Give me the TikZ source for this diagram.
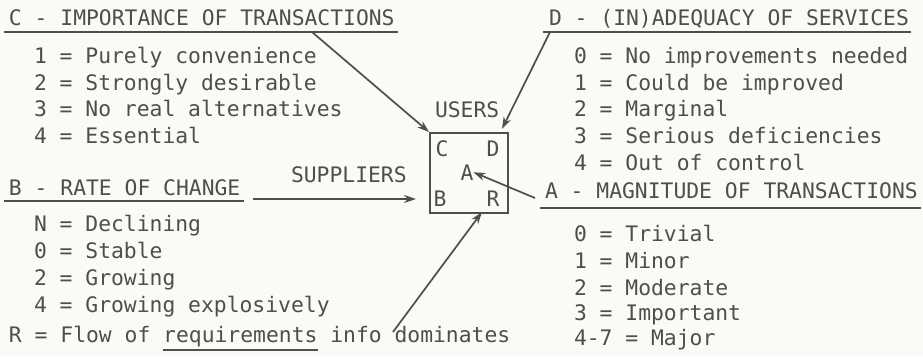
\documentclass[tikz,border=0pt]{standalone}
\usepackage{fontspec}
\setmonofont{DejaVu Sans Mono}
\usetikzlibrary{arrows.meta}
\definecolor{ink}{RGB}{78,78,78}
\definecolor{paper}{RGB}{250,250,246}
\tikzset{
  txt/.style={anchor=base west, inner sep=0pt, outer sep=0pt, text=ink,
    font=\ttfamily\fontsize{21.35}{25}\selectfont},
  ctr/.style={txt, anchor=base},
  uline/.style={draw=ink, line width=1.8pt},
  arr/.style={draw=ink, line width=1.7pt, -{Stealth[length=12pt,width=8pt]}},
  boxst/.style={draw=ink, line width=1.8pt, minimum width=78pt, minimum height=80pt, inner sep=0pt}
}
\begin{document}
\begin{tikzpicture}[x=1pt,y=-1pt]
\fill[paper] (0,0) rectangle (923,356);
\useasboundingbox (0,0) rectangle (923,356);
% C block
\node[txt] (ct) at (9,25) {C - IMPORTANCE OF TRANSACTIONS};
\coordinate (cu1) at (4,32); \coordinate (cu2) at (398,32);
\draw[uline] (cu1) -- (cu2);
\node[txt] (c1) at (34,63) {1 = Purely convenience};
\node[txt] (c2) at (34,90) {2 = Strongly desirable};
\node[txt] (c3) at (34,116) {3 = No real alternatives};
\node[txt] (c4) at (34,143) {4 = Essential};
% D block
\node[txt] (dt) at (549,25) {D - (IN)ADEQUACY OF SERVICES};
\coordinate (du1) at (543,32); \coordinate (du2) at (911,32);
\draw[uline] (du1) -- (du2);
\node[txt] (d0) at (574,63) {0 = No improvements needed};
\node[txt] (d1) at (574,90) {1 = Could be improved};
\node[txt] (d2) at (574,116) {2 = Marginal};
\node[txt] (d3) at (574,143) {3 = Serious deficiencies};
\node[txt] (d4) at (574,170) {4 = Out of control};
% B block
\node[txt] (bt) at (9,195) {B - RATE OF CHANGE};
\coordinate (bu1) at (4,201); \coordinate (bu2) at (244,201);
\draw[uline] (bu1) -- (bu2);
\node[txt] (b1) at (34,231) {N = Declining};
\node[txt] (b2) at (34,258) {0 = Stable};
\node[txt] (b3) at (34,285) {2 = Growing};
\node[txt] (b4) at (34,312) {4 = Growing explosively};
\node[txt] (rt) at (9,342) {R = Flow of requirements info dominates};
\coordinate (ru1) at (163,350); \coordinate (ru2) at (318,350);
\draw[uline] (ru1) -- (ru2);
% A block
\node[txt] (at) at (545,198) {A - MAGNITUDE OF TRANSACTIONS};
\coordinate (au1) at (540,208); \coordinate (au2) at (921,208);
\draw[uline] (au1) -- (au2);
\node[txt] (a0) at (574,241) {0 = Trivial};
\node[txt] (a1) at (574,268) {1 = Minor};
\node[txt] (a2) at (574,295) {2 = Moderate};
\node[txt] (a3) at (574,320) {3 = Important};
\node[txt] (a4) at (574,345) {4-7 = Major};
% central box
\node[boxst] (box) at (469,173) {};
\node[ctr] (bc) at (442,156) {C};
\node[ctr] (bd) at (493,156) {D};
\node[ctr] (ba) at (467,180) {A};
\node[ctr] (bb) at (440,206) {B};
\node[ctr] (br) at (493,206) {R};
\node[txt] (users) at (435,117) {USERS};
\node[txt] (supp) at (291,182) {SUPPLIERS};
% arrows
\coordinate (cTail) at (312,32);
\draw[arr] (cTail) -- (box.north west);
\coordinate (dTail) at (550,32);
\coordinate (dTip) at (502,129);
\draw[arr] (dTail) -- (dTip);
\coordinate (sTail) at (253,199);
\coordinate (sTip) at (416,199);
\draw[arr] (sTail) -- (sTip);
\coordinate (aTail) at (535,198);
\draw[arr] (aTail) -- (ba.east);
\coordinate (rTail) at (393,332);
\coordinate (rTip) at (482,212);
\draw[arr] (rTail) -- (rTip);
\end{tikzpicture}
\end{document}
